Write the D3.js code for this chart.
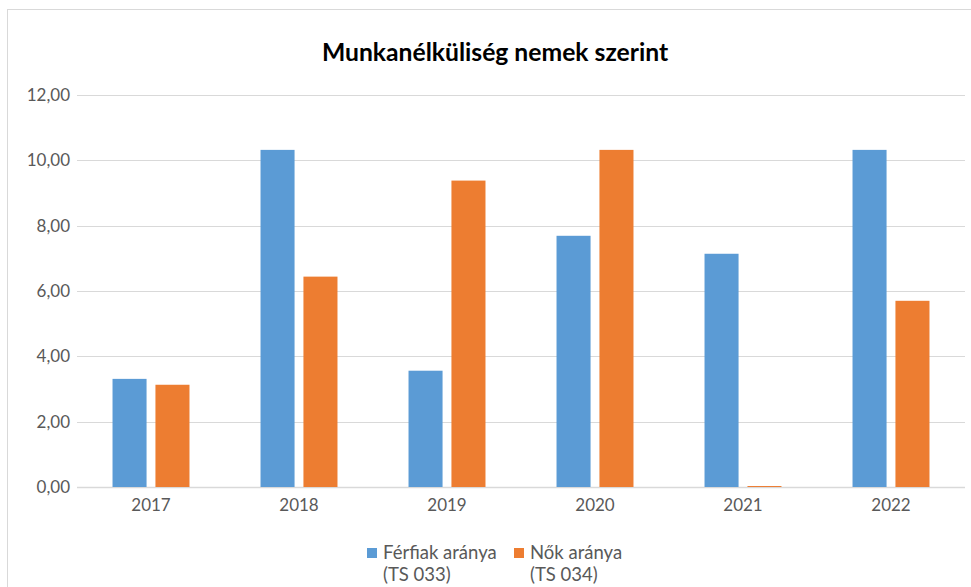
<!DOCTYPE html>
<html>
<head>
<meta charset="utf-8">
<script src="https://cdn.jsdelivr.net/npm/d3@7"></script>
<style>
  body { margin: 0; background: #fff; }
  text { font-family: Lato, "Open Sans", sans-serif; }
</style>
</head>
<body>
<div id="chart"></div>
<script>
  // Chart data
  const years = ['2017', '2018', '2019', '2020', '2021', '2022'];
  const ferfiak = [3.31, 10.32, 3.56, 7.69, 7.14, 10.32];
  const nok = [3.13, 6.44, 9.38, 10.32, 0.03, 5.70];
  const yTicks = [0, 2, 4, 6, 8, 10, 12];
  const seriesNames = [['Férfiak aránya', '(TS 033)'], ['Nők aránya', '(TS 034)']];
  const colors = ['#5b9bd5', '#ed7d31'];

  const width = 971;
  const height = 587;
  const margin = { top: 95, right: 6, bottom: 100, left: 77 };

  const svg = d3.select('#chart')
    .append('svg')
    .attr('width', width)
    .attr('height', height);

  // outer chart frame
  svg.append('rect')
    .attr('x', 7.5)
    .attr('y', 9.5)
    .attr('width', 970)
    .attr('height', 600)
    .attr('fill', 'none')
    .attr('stroke', '#d9d9d9')
    .attr('stroke-width', 1);

  svg.append('text')
    .attr('x', 495)
    .attr('y', 61)
    .attr('text-anchor', 'middle')
    .style('font-size', '24.7px')
    .style('font-weight', 'bold')
    .style('fill', '#000')
    .text('Munkanélküliség nemek szerint');

  const x = d3.scaleBand()
    .domain(years)
    .range([margin.left, width - margin.right]);

  const y = d3.scaleLinear()
    .domain([0, 12])
    .range([height - margin.bottom, margin.top]);

  // gridlines
  svg.append('g')
    .selectAll('line')
    .data(yTicks)
    .enter().append('line')
    .attr('x1', margin.left)
    .attr('x2', width - margin.right)
    .attr('y1', d => Math.round(y(d)) + 0.5)
    .attr('y2', d => Math.round(y(d)) + 0.5)
    .style('stroke', '#d9d9d9')
    .style('stroke-width', d => d === 0 ? 1.5 : 1);

  // y axis labels
  const fmt = d => d3.format('.2f')(d).replace('.', ',');
  svg.append('g')
    .selectAll('text')
    .data(yTicks)
    .enter().append('text')
    .attr('x', 70)
    .attr('y', d => y(d))
    .attr('dy', '0.35em')
    .attr('text-anchor', 'end')
    .style('font-size', '17px')
    .style('fill', '#595959')
    .text(fmt);

  // x axis labels
  svg.append('g')
    .selectAll('text')
    .data(years)
    .enter().append('text')
    .attr('x', d => x(d) + x.bandwidth() / 2)
    .attr('y', height - margin.bottom + 18)
    .attr('dy', '0.35em')
    .attr('text-anchor', 'middle')
    .style('font-size', '17px')
    .style('fill', '#595959')
    .text(d => d);

  // bars
  const barW = x.bandwidth() * 0.23;
  const gap = x.bandwidth() * 0.06;
  const inner = d3.scaleBand()
    .domain([0, 1])
    .range([0, barW * 2 + gap])
    .paddingInner(gap / (barW + gap));

  [ferfiak, nok].forEach((vals, i) => {
    svg.append('g')
      .selectAll('rect')
      .data(vals)
      .enter().append('rect')
      .attr('x', (d, j) => x(years[j]) + (x.bandwidth() - (barW * 2 + gap)) / 2 + inner(i))
      .attr('y', d => y(d))
      .attr('width', inner.bandwidth())
      .attr('height', d => y(0) - y(d))
      .style('fill', colors[i]);
  });

  // legend
  const legendX = [367, 514];
  const legend = svg.append('g')
    .selectAll('g')
    .data(seriesNames)
    .enter().append('g')
    .attr('transform', (d, i) => `translate(${legendX[i]},548)`);

  legend.append('rect')
    .attr('width', 10)
    .attr('height', 10)
    .style('fill', (d, i) => colors[i]);

  legend.append('text')
    .attr('x', 16)
    .attr('y', 5)
    .attr('dy', '0.35em')
    .style('font-size', '18.5px')
    .style('fill', '#595959')
    .text(d => d[0]);

  legend.append('text')
    .attr('x', 16)
    .attr('y', 27)
    .attr('dy', '0.35em')
    .style('font-size', '18.5px')
    .style('fill', '#595959')
    .text(d => d[1]);
</script>
</body>
</html>
